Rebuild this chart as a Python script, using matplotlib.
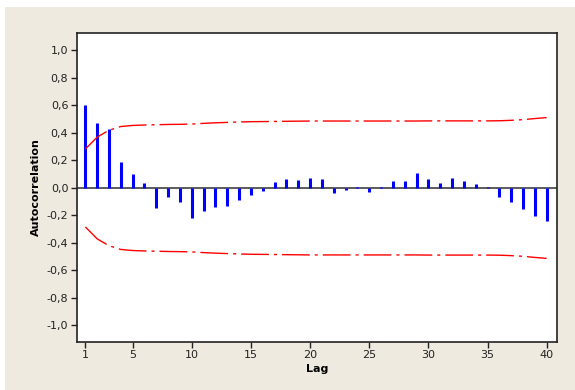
import matplotlib.pyplot as plt
from matplotlib.patches import Rectangle
from matplotlib.ticker import FuncFormatter

# Datos de la FAC
lags = list(range(1, 41))
acf = [0.60, 0.475, 0.427, 0.19, 0.10, 0.034, -0.144, -0.065, -0.10, -0.216,
       -0.165, -0.137, -0.13, -0.084, -0.048, -0.02, 0.043, 0.065, 0.058, 0.072,
       0.065, -0.034, -0.014, 0.007, -0.026, 0.007, 0.05, 0.05, 0.108, 0.065,
       0.036, 0.072, 0.05, 0.026, 0.007, -0.062, -0.105, -0.156, -0.206, -0.242]
# Limites de confianza (superior; el inferior es simetrico)
limite = [0.283, 0.37, 0.42, 0.447, 0.455, 0.458, 0.46, 0.462, 0.463, 0.465,
          0.47, 0.474, 0.477, 0.48, 0.482, 0.483, 0.484, 0.485, 0.486, 0.487,
          0.487, 0.487, 0.487, 0.487, 0.487, 0.487, 0.487, 0.487, 0.487, 0.488,
          0.488, 0.488, 0.488, 0.488, 0.488, 0.489, 0.492, 0.497, 0.505, 0.512]
xticks = [1, 5, 10, 15, 20, 25, 30, 35, 40]
yticks = [-1.0, -0.8, -0.6, -0.4, -0.2, 0.0, 0.2, 0.4, 0.6, 0.8, 1.0]

fig = plt.figure(figsize=(5.75, 3.9), dpi=100, facecolor='white')
fig.patches.append(Rectangle((5 / 575, 0), 1, 383 / 390, transform=fig.transFigure,
                             facecolor='#eeeae0', edgecolor='none', zorder=-10))

ax = fig.add_axes([76.7 / 575, 1 - 341.7 / 390, 480 / 575, 308.4 / 390])
ax.set_facecolor('white')

dash = (0, (20, 3.6, 2.2, 3.6))
ax.axhline(0, color='#404040', lw=1.2, zorder=2)
ax.vlines(lags, 0, acf, color='#0000ff', lw=2.2, zorder=3)
ax.plot(lags, limite, color='#ff0000', lw=1.0, linestyle=dash, zorder=4)
ax.plot(lags, [-v for v in limite], color='#ff0000', lw=1.0, linestyle=dash, zorder=4)

ax.set_xlim(0.27, 40.85)
ax.set_ylim(-1.118, 1.125)
ax.set_xticks(xticks)
ax.set_yticks(yticks)
ax.yaxis.set_major_formatter(FuncFormatter(lambda v, p: f'{v:.1f}'.replace('.', ',').replace('-0,0', '0,0')))
ax.tick_params(direction='out', length=4, width=1, labelsize=8, colors='#222222', pad=2)
for s in ax.spines.values():
    s.set_color('#222222')
    s.set_linewidth(1.2)

ax.set_xlabel('Lag', fontsize=8, fontweight='bold', labelpad=3)
ax.set_ylabel('Autocorrelation', fontsize=8, fontweight='bold', labelpad=4)

plt.savefig('out.png', dpi=100, facecolor=fig.get_facecolor())
